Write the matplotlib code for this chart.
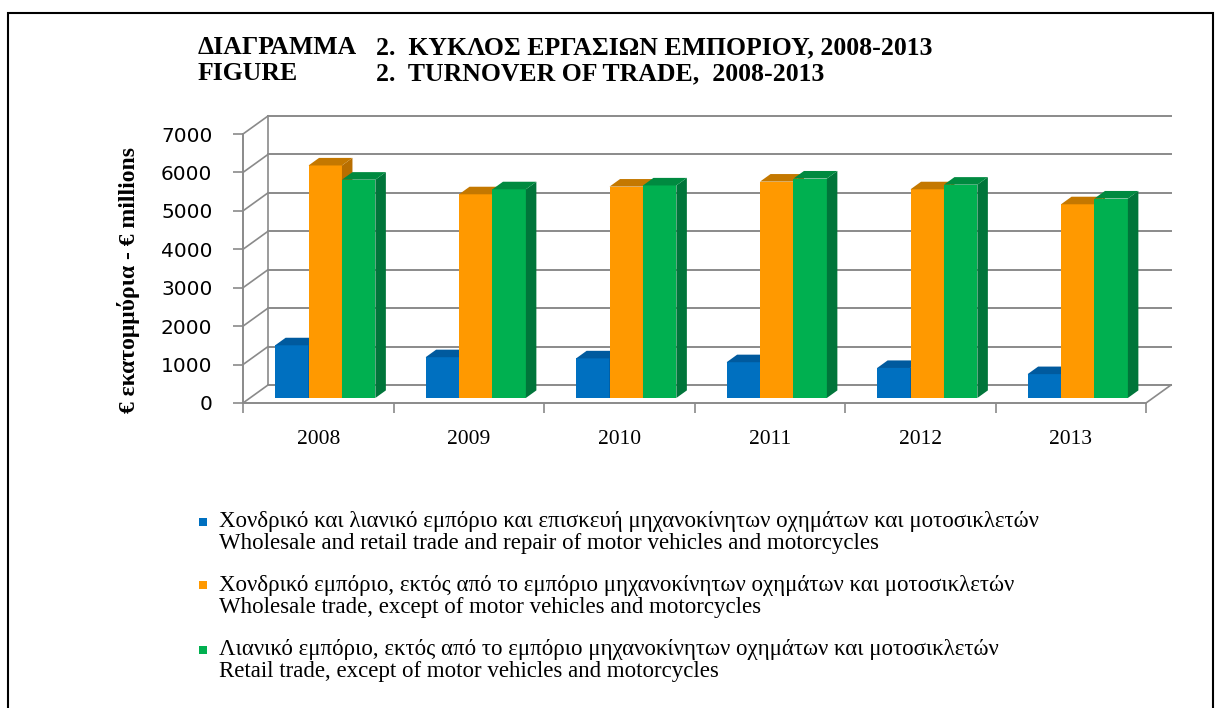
import matplotlib.pyplot as plt
from matplotlib.patches import Polygon, Rectangle

# data
years = ['2008', '2009', '2010', '2011', '2012', '2013']
motor = [1370, 1060, 1030, 930, 780, 620]
wholesale = [6050, 5300, 5500, 5630, 5430, 5040]
retail = [5680, 5430, 5530, 5710, 5550, 5190]
yticks = [0, 1000, 2000, 3000, 4000, 5000, 6000, 7000]

labels_gr = [
    'Χονδρικό και λιανικό εμπόριο και επισκευή μηχανοκίνητων οχημάτων και μοτοσικλετών',
    'Χονδρικό εμπόριο, εκτός από το εμπόριο μηχανοκίνητων οχημάτων και μοτοσικλετών',
    'Λιανικό εμπόριο, εκτός από το εμπόριο μηχανοκίνητων οχημάτων και μοτοσικλετών',
]
labels_en = [
    'Wholesale and retail trade and repair of motor vehicles and motorcycles',
    'Wholesale trade, except of motor vehicles and motorcycles',
    'Retail trade, except of motor vehicles and motorcycles',
]

# front, side, top colours per series
front_c = ['#0070C0', '#FF9900', '#00B050']
side_c = ['#004F8A', '#B86E00', '#00753A']
top_c = ['#005A9E', '#C47800', '#008A40']

W, H = 1218, 708
fig = plt.figure(figsize=(W / 100, H / 100), dpi=100)

def fx(px):
    return px / W

def fy(py):
    return 1 - py / H

# front plane of the plot: x 243..1146, y(0)=403, y(7000)=134
ax = fig.add_axes([fx(243), fy(403), fx(1146) - fx(243), fy(134) - fy(403)])
ax.set_xlim(0, 6)
ax.set_ylim(0, 7000)

# oblique depth of the 3d box in data units
DX = 25 / 150.5
DY = 18 * 7000 / 269
grid_c = '#8a8a8a'

# back wall, left wall, floor
for v in yticks:
    ax.plot([DX, 6 + DX], [v + DY, v + DY], color=grid_c, lw=1.4, clip_on=False, zorder=1)
    ax.plot([0, DX], [v, v + DY], color=grid_c, lw=1.2, clip_on=False, zorder=1)
ax.plot([DX, DX], [DY, 7000 + DY], color=grid_c, lw=1.2, clip_on=False, zorder=1)
ax.plot([6, 6 + DX], [0, DY], color=grid_c, lw=1.2, clip_on=False, zorder=1)

# bars
series = [motor, wholesale, retail]
bw = 0.222
f0 = 0.28   # depth of bar front face
fd = 0.42   # bar depth
sx, sy = f0 * DX, f0 * DY
bx, by = fd * DX, fd * DY
z = 3
for i in range(len(years)):
    for j, vals in enumerate(series):
        left = i + 0.5 + (j - 1.5) * bw + sx
        v = vals[i]
        ax.bar(left, v, width=bw, bottom=sy, align='edge', color=front_c[j],
               linewidth=0, zorder=z, clip_on=False)
        top = sy + v
        ax.add_patch(Polygon([(left + bw, sy), (left + bw + bx, sy + by),
                              (left + bw + bx, top + by), (left + bw, top)],
                             closed=True, facecolor=side_c[j], lw=0, zorder=z, clip_on=False))
        ax.add_patch(Polygon([(left, top), (left + bx, top + by),
                              (left + bw + bx, top + by), (left + bw, top)],
                             closed=True, facecolor=top_c[j], lw=0, zorder=z, clip_on=False))
        z += 1

# axes
for s in ['top', 'right']:
    ax.spines[s].set_visible(False)
for s in ['left', 'bottom']:
    ax.spines[s].set_color(grid_c)
    ax.spines[s].set_linewidth(1.4)
ax.set_facecolor('none')
ax.set_yticks(yticks)
ax.set_yticklabels([str(v) for v in yticks], fontsize=14.5, family='DejaVu Sans')
ax.tick_params(axis='y', length=7, width=1.2, color=grid_c, pad=15)
ax.set_xticks(range(7))
ax.set_xticklabels([''] * 7)
ax.tick_params(axis='x', which='major', length=7, width=1.2, color=grid_c)
ax.set_xticks([i + 0.5 for i in range(6)], minor=True)
ax.set_xticklabels(years, minor=True, fontsize=15.5, family='Liberation Serif')
ax.tick_params(axis='x', which='minor', length=0, pad=19.5)

fig.text(fx(128), fy(280), '€ εκατομμύρια - € millions', rotation=90, ha='center',
         va='center', fontsize=17, fontweight='bold', family='Liberation Serif')

# title
tkw = dict(fontsize=18.5, fontweight='bold', family='Liberation Serif', va='center')
fig.text(fx(198), fy(48), 'ΔΙΑΓΡΑΜΜΑ', **tkw)
fig.text(fx(376), fy(48), '2.  ΚΥΚΛΟΣ ΕΡΓΑΣΙΩΝ ΕΜΠΟΡΙΟΥ, 2008-2013', **tkw)
fig.text(fx(198), fy(74), 'FIGURE', **tkw)
fig.text(fx(376), fy(74), '2.  TURNOVER OF TRADE,  2008-2013', **tkw)

# legend
leg_y = [522, 585, 650]
for k in range(3):
    y0 = leg_y[k]
    fig.patches.append(Rectangle((fx(199), fy(y0 + 4)), fx(8), 8 / H, facecolor=front_c[k],
                                 transform=fig.transFigure, figure=fig))
    fig.text(fx(219), fy(y0), labels_gr[k], fontsize=16.5, family='Liberation Serif', va='center')
    fig.text(fx(219), fy(y0 + 22), labels_en[k], fontsize=16.5, family='Liberation Serif', va='center')

# outer frame
fig.patches.append(Rectangle((fx(8), -0.05), fx(1213) - fx(8), fy(13) + 0.05, fill=False,
                             edgecolor='black', lw=1.5, transform=fig.transFigure, figure=fig))

fig.savefig('out.png', dpi=100)
